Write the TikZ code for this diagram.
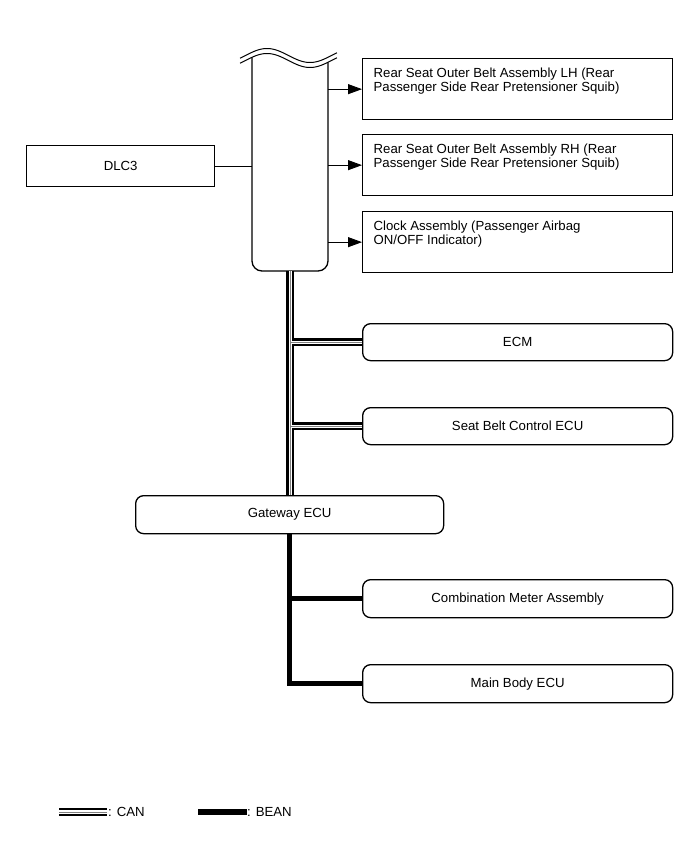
\documentclass[tikz,border=0pt]{standalone}
\usepackage{fontspec}
\setmainfont{Liberation Sans}
\usetikzlibrary{arrows.meta}
\newcommand\toptext[1]{\parbox[b][61pt][t]{310pt}{\fontsize{13.2}{14.5}\selectfont\vspace*{9pt}\leftskip=11pt\rightskip=0pt plus 1fil\parindent=0pt\parfillskip=0pt plus 1fil #1\par}}
\begin{document}
\begin{tikzpicture}[x=1pt,y=-1pt,
  font=\fontsize{13.2}{14}\selectfont,
  sqbox/.style={draw, line width=1.3pt, inner sep=0pt, anchor=north west},
  rbox/.style={draw, line width=1.3pt, rounded corners=8pt, inner sep=0pt, anchor=north west, minimum width=310pt, minimum height=37pt},
  arr/.style={line width=0.9pt, -{Triangle[length=14pt,width=10pt]}},
  thin/.style={line width=0.9pt},
  canbus/.style={line width=2.6pt, double=white, double distance=3.2pt},
  canmid/.style={line width=0.5pt, gray},
  beanbus/.style={line width=5.5pt, line join=miter}]
\useasboundingbox (0,0) rectangle (690,854);

% control unit (tall box with cut top)
\node[minimum width=76pt, minimum height=221pt, inner sep=0pt, anchor=north west] (ctrl) at (252,50) {};
\draw[line width=1pt] plot[domain=240:337, samples=60, smooth] (\x,{55.5-7*cos((\x-267)*180/43)});
\draw[line width=1pt] plot[domain=240:337, samples=60, smooth] (\x,{60.5-7*cos((\x-267)*180/43)});
\draw[line width=1.3pt, rounded corners=10pt] (252,{60.5-7*cos((252-267)*180/43)}) -- (252,271) -- (328,271) -- (328,{60.5-7*cos((328-267)*180/43)});

% right-hand squib boxes
\node[sqbox] (lh) at (362,58) {\toptext{Rear Seat Outer Belt Assembly LH (Rear\\Passenger Side Rear Pretensioner Squib)}};
\node[sqbox] (rh) at (362,134) {\toptext{Rear Seat Outer Belt Assembly RH (Rear\\Passenger Side Rear Pretensioner Squib)}};
\node[sqbox] (clk) at (362,211) {\toptext{Clock Assembly (Passenger Airbag\\ON/OFF Indicator)}};
\draw[arr] (ctrl.east |- lh.west) -- (lh.west);
\draw[arr] (ctrl.east |- rh.west) -- (rh.west);
\draw[arr] (ctrl.east |- clk.west) -- (clk.west);

% DLC3
\node[sqbox, minimum width=188pt, minimum height=41pt] (dlc) at (26,145) {DLC3};
\draw[thin] (dlc.east) -- (ctrl.west |- dlc.east);

% ECUs
\node[rbox] (ecm) at (362,323) {ECM};
\node[rbox] (seat) at (362,407) {Seat Belt Control ECU};
\node[rbox, minimum width=308pt, minimum height=38pt] (gw) at (135,495) {Gateway ECU};
\node[rbox, minimum height=38pt] (comb) at (362,579) {Combination Meter Assembly};
\node[rbox, minimum height=38pt] (main) at (362,664) {Main Body ECU};

% CAN bus
\draw[canbus] (ctrl.south) -- (ctrl.south |- gw.north)
  (ctrl.south |- ecm.west) -- (ecm.west)
  (ctrl.south |- seat.west) -- (seat.west);
\draw[canmid] (ctrl.south) -- (ctrl.south |- gw.north)
  (ctrl.south |- ecm.west) -- (ecm.west)
  (ctrl.south |- seat.west) -- (seat.west);

% BEAN bus
\draw[beanbus] (gw.south) |- (main.west)
  (gw.south |- comb.west) -- (comb.west);

% legend
\coordinate (cana) at (59,812);
\coordinate (canb) at (107,812);
\draw[canbus] (cana) -- (canb);
\draw[canmid] (cana) -- (canb);
\node[anchor=west, inner sep=0pt] (lcan) at (108,812) {: CAN};
\coordinate (beana) at (198,812);
\coordinate (beanb) at (247,812);
\draw[line width=5.5pt] (beana) -- (beanb);
\node[anchor=west, inner sep=0pt] (lbean) at (247,812) {: BEAN};
\end{tikzpicture}
\end{document}
